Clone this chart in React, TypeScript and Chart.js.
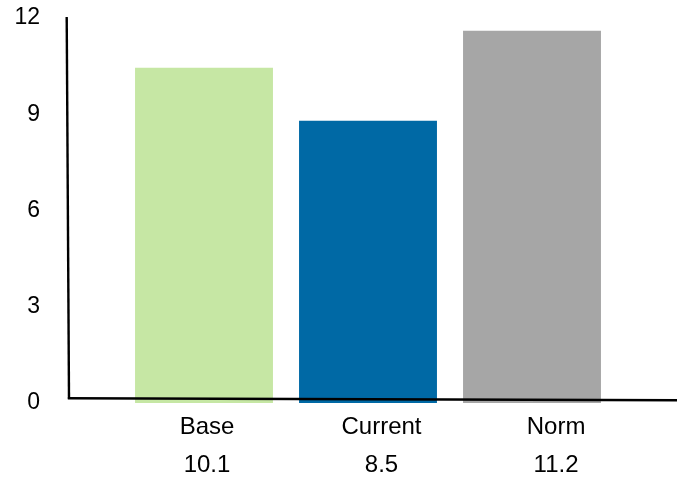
import React, { useEffect, useRef } from "react";
import { Chart, registerables } from "chart.js";

Chart.register(...registerables);

const categories = ["Base", "Current", "Norm"];
const barValues = [10.45, 8.8, 11.6];
const labelValues = ["10.1", "8.5", "11.2"];
const barColors = ["#C6E7A4", "#0069A5", "#A6A6A6"];
const yTicks = [0, 3, 6, 9, 12];
const labelTickValues = [0, 1, 2];

const axisLinesPlugin = {
  id: "axisLines",
  afterDatasetsDraw(chart: any) {
    const { ctx, chartArea } = chart;
    const { left, bottom, top } = chartArea;
    ctx.save();
    ctx.strokeStyle = "#000";
    ctx.lineWidth = 2.4;
    ctx.lineCap = "butt";
    ctx.beginPath();
    ctx.moveTo(left - 55.3, top - 1);
    ctx.lineTo(left - 53, bottom - 4);
    ctx.stroke();
    ctx.beginPath();
    ctx.moveTo(left - 54.2, bottom - 4.7);
    ctx.lineTo(chart.width, bottom - 2.7);
    ctx.stroke();
    ctx.restore();
  },
};

export default function App() {
  const canvasRef = useRef<HTMLCanvasElement | null>(null);

  useEffect(() => {
    document.body.style.margin = "0";
    const canvas = canvasRef.current;
    if (!canvas) return;
    const chart = new Chart(canvas, {
      type: "bar",
      data: {
        labels: categories,
        datasets: [
          {
            data: barValues,
            backgroundColor: barColors,
            borderWidth: 0,
            categoryPercentage: 1,
            barPercentage: 0.841,
            xAxisID: "x",
          },
        ],
      },
      options: {
        animation: false,
        responsive: false,
        maintainAspectRatio: false,
        layout: { padding: { top: 18, right: 63, left: 0, bottom: 0 } },
        plugins: {
          legend: { display: false },
          tooltip: { enabled: false },
        },
        scales: {
          x: {
            type: "category",
            display: false,
          },
          x2: {
            type: "linear",
            position: "bottom",
            offset: false,
            min: -0.487,
            max: 2.332,
            grid: { display: false, drawTicks: false, offset: false },
            border: { display: false },
            afterBuildTicks(scale: any) {
              scale.ticks = labelTickValues.map((v) => ({ value: v }));
            },
            ticks: {
              color: "#000",
              padding: 5,
              autoSkip: false,
              maxRotation: 0,
              font: { family: "Liberation Sans, Arial", size: 24, lineHeight: 1.58 },
              callback: (_v: any, i: number) => [categories[i], labelValues[i]],
            },
            afterFit(scale: any) {
              scale.height = 74;
              scale.paddingLeft = 0;
              scale.paddingRight = 0;
            },
          },
          y: {
            min: 0,
            max: 12,
            grid: { display: false, drawTicks: false },
            border: { display: false },
            afterBuildTicks(scale: any) {
              scale.ticks = yTicks.map((v) => ({ value: v }));
            },
            ticks: {
              color: "#000",
              padding: 82,
              font: { family: "Liberation Sans, Arial", size: 23 },
            },
            afterFit(scale: any) {
              scale.width = 122;
              scale.paddingTop = 0;
              scale.paddingBottom = 0;
            },
          },
        },
      },
      plugins: [axisLinesPlugin],
    });
    return () => chart.destroy();
  }, []);

  return (
    <div style={{ position: "fixed", left: 0, top: 0, width: 677, height: 477, background: "#fff" }}>
      <canvas ref={canvasRef} width={677} height={477} style={{ width: 677, height: 477 }} />
    </div>
  );
}
